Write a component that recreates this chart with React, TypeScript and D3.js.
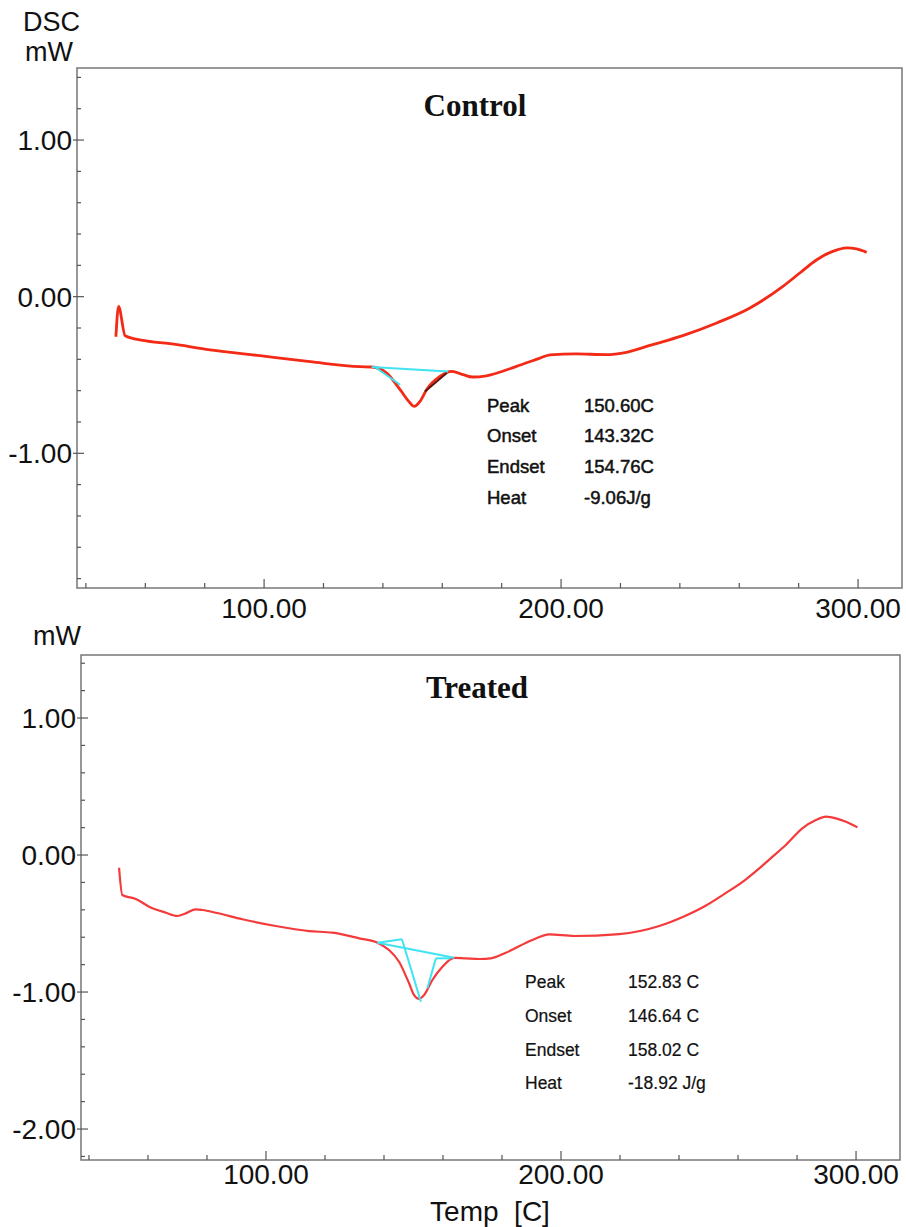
import React from "react";
import * as d3 from "d3";

// ---------- DATA ----------
const controlTemp = [50.1, 51.0, 53.2, 59.2, 68.3, 81.8, 98.6, 115.5, 132.3, 136.2, 141.3, 145.8, 149.1, 150.5, 152.5, 154.7, 159.2, 163.2, 167.0, 170.3, 174.9, 185.0, 192.9, 196.3, 205, 215, 222, 229.9, 241.0, 252.4, 263.6, 274.7, 280.4, 286.1, 291.5, 296.2, 299.5, 302.9];
const controlDSC = [-0.256, -0.062, -0.249, -0.279, -0.3, -0.339, -0.377, -0.415, -0.447, -0.449, -0.488, -0.594, -0.677, -0.701, -0.669, -0.594, -0.509, -0.477, -0.498, -0.513, -0.505, -0.445, -0.392, -0.371, -0.365, -0.37, -0.355, -0.311, -0.249, -0.168, -0.072, 0.066, 0.151, 0.236, 0.289, 0.311, 0.305, 0.283];

const treatedTemp = [50.2, 51.3, 55.9, 60.4, 66.1, 70.0, 72.8, 76.2, 78.5, 83.0, 92.0, 103.3, 114.6, 122.5, 131.6, 137.8, 141.7, 145.1, 148.5, 150.2, 151.9, 153.6, 156.4, 159.8, 163.8, 167.7, 172.3, 176.2, 181.3, 190.3, 196.0, 204.5, 219.7, 233.3, 242, 249, 255.3, 262.7, 267.2, 271.7, 276.2, 281.8, 286.4, 289.8, 293.2, 296.6, 300.5];
const treatedDSC = [-0.093, -0.292, -0.321, -0.377, -0.421, -0.445, -0.426, -0.396, -0.401, -0.421, -0.469, -0.518, -0.555, -0.567, -0.608, -0.64, -0.693, -0.779, -0.936, -1.022, -1.049, -1.022, -0.912, -0.815, -0.75, -0.754, -0.759, -0.754, -0.713, -0.62, -0.579, -0.591, -0.577, -0.518, -0.445, -0.37, -0.285, -0.177, -0.097, -0.012, 0.073, 0.195, 0.255, 0.28, 0.268, 0.243, 0.202];

// analysis construction lines: [T1, v1, T2, v2]
const controlCyan = [
  [136.2, -0.449, 162.0, -0.477],
  [137.3, -0.449, 145.8, -0.562],
];
const controlDark = [[154.2, -0.605, 161.5, -0.487]];
const treatedCyan = [
  [137.8, -0.64, 163.8, -0.75],
  [137.8, -0.64, 146.1, -0.615],
  [146.1, -0.615, 152.5, -1.071],
  [157.6, -0.754, 154.7, -0.973],
  [157.6, -0.754, 162.6, -0.754],
];

const annotLabels = ["Peak", "Onset", "Endset", "Heat"];
const controlAnnot = ["150.60C", "143.32C", "154.76C", "-9.06J/g"];
const treatedAnnot = ["152.83 C", "146.64 C", "158.02 C", "-18.92 J/g"];

const xMajorTicks = [100, 200, 300];
const topYMajor = [1, 0, -1];
const bottomYMajor = [1, 0, -1, -2];

type PanelProps = {
  left: number; right: number; top: number; bottom: number;
  xDomain: [number, number]; yDomain: [number, number];
  temps: number[]; vals: number[];
  yMajor: number[];
  title: string; titleX: number; titleY: number;
  cyan: number[][]; dark: number[][];
  annot: string[]; annotX: number; annotValX: number; annotY: number; annotStep: number; annotSize: number; annotStroke: number;
  lineColor: string; lineWidth: number;
  xLabelY: number;
};

const fmt = (v: number) => v.toFixed(2);
const SANS = "Liberation Sans, Arial, sans-serif";

function Panel(p: PanelProps) {
  const x = d3.scaleLinear().domain(p.xDomain).range([p.left, p.right]);
  const y = d3.scaleLinear().domain(p.yDomain).range([p.bottom, p.top]);
  const pts = p.temps.map((t, i) => [t, p.vals[i]] as [number, number]);
  const line = d3.line<[number, number]>().x(d => x(d[0])).y(d => y(d[1])).curve(d3.curveMonotoneX);
  const xMinor = d3.range(40, p.xDomain[1], 20);
  const yMinor = d3.range(Math.ceil(p.yDomain[0] / 0.2) * 0.2, p.yDomain[1], 0.2);
  const axisColor = "#555";
  return (
    <g>
      <rect x={p.left} y={p.top} width={p.right - p.left} height={p.bottom - p.top} fill="none" stroke="#777" strokeWidth={1.5} />
      {xMinor.map((t, i) => {
        const major = xMajorTicks.includes(Math.round(t));
        return <line key={"xt" + i} x1={x(t)} x2={x(t)} y1={p.bottom} y2={p.bottom - (major ? 9 : 5)} stroke={axisColor} strokeWidth={1.2} />;
      })}
      {yMinor.map((v, i) => {
        const major = p.yMajor.some(m => Math.abs(m - v) < 1e-6);
        return <line key={"yt" + i} x1={major ? p.left - 4 : p.left} x2={p.left + (major ? 7 : 4)} y1={y(v)} y2={y(v)} stroke={axisColor} strokeWidth={1.2} />;
      })}
      {xMajorTicks.map(t => (
        <text key={"xl" + t} x={x(t)} y={p.xLabelY} textAnchor="middle" fontFamily={SANS} fontSize={28} fill="#111">{fmt(t)}</text>
      ))}
      {p.yMajor.map(v => (
        <text key={"yl" + v} x={p.left - 5} y={y(v)} dy="0.36em" textAnchor="end" fontFamily={SANS} fontSize={28} fill="#111">{fmt(v)}</text>
      ))}
      <text x={p.titleX} y={p.titleY} textAnchor="middle" fontFamily="Liberation Serif, Times New Roman, serif" fontWeight="bold" fontSize={31} fill="#111">{p.title}</text>
      <path d={line(pts) || ""} fill="none" stroke={p.lineColor} strokeWidth={p.lineWidth} strokeLinejoin="round" />
      {p.cyan.map((s, i) => (
        <line key={"c" + i} x1={x(s[0])} y1={y(s[1])} x2={x(s[2])} y2={y(s[3])} stroke="#3fe3f2" strokeWidth={2} />
      ))}
      {p.dark.map((s, i) => (
        <line key={"d" + i} x1={x(s[0])} y1={y(s[1])} x2={x(s[2])} y2={y(s[3])} stroke="#5a1a10" strokeWidth={2} />
      ))}
      {annotLabels.map((lab, i) => (
        <g key={"a" + i} fontFamily={SANS} fontSize={p.annotSize} fill="#111" stroke="#111" strokeWidth={p.annotStroke}>
          <text x={p.annotX} y={p.annotY + i * p.annotStep} dy="0.36em">{lab}</text>
          <text x={p.annotValX} y={p.annotY + i * p.annotStep} dy="0.36em">{p.annot[i]}</text>
        </g>
      ))}
    </g>
  );
}

export default function App() {
  return (
    <svg width={906} height={1227} style={{ position: "absolute", left: 0, top: 0, background: "#fff" }}>
      <rect x={0} y={0} width={906} height={1227} fill="#fff" />
      <text x={23} y={31} fontFamily={SANS} fontSize={27} fill="#111">DSC</text>
      <text x={25} y={61} fontFamily={SANS} fontSize={27} fill="#111">mW</text>
      <Panel left={77} right={902} top={68} bottom={588} xDomain={[37, 314.8]} yDomain={[-1.86, 1.46]}
        temps={controlTemp} vals={controlDSC} yMajor={topYMajor}
        title="Control" titleX={475} titleY={116}
        cyan={controlCyan} dark={controlDark}
        annot={controlAnnot} annotX={487} annotValX={584} annotY={405} annotStep={30.7} annotSize={18.5} annotStroke={0.5}
        lineColor="#f22a16" lineWidth={2.8} xLabelY={618} />
      <text x={33} y={645} fontFamily={SANS} fontSize={27} fill="#111">mW</text>
      <Panel left={81} right={900} top={655} bottom={1160} xDomain={[37.3, 314.9]} yDomain={[-2.226, 1.46]}
        temps={treatedTemp} vals={treatedDSC} yMajor={bottomYMajor}
        title="Treated" titleX={477} titleY={698}
        cyan={treatedCyan} dark={[]}
        annot={treatedAnnot} annotX={525} annotValX={628} annotY={982} annotStep={33.7} annotSize={17.5} annotStroke={0.2}
        lineColor="#f43a3a" lineWidth={2.2} xLabelY={1184} />
      <text x={490} y={1221} textAnchor="middle" fontFamily={SANS} fontSize={28} fill="#111" style={{ whiteSpace: "pre" }}>{"Temp  [C]"}</text>
    </svg>
  );
}
